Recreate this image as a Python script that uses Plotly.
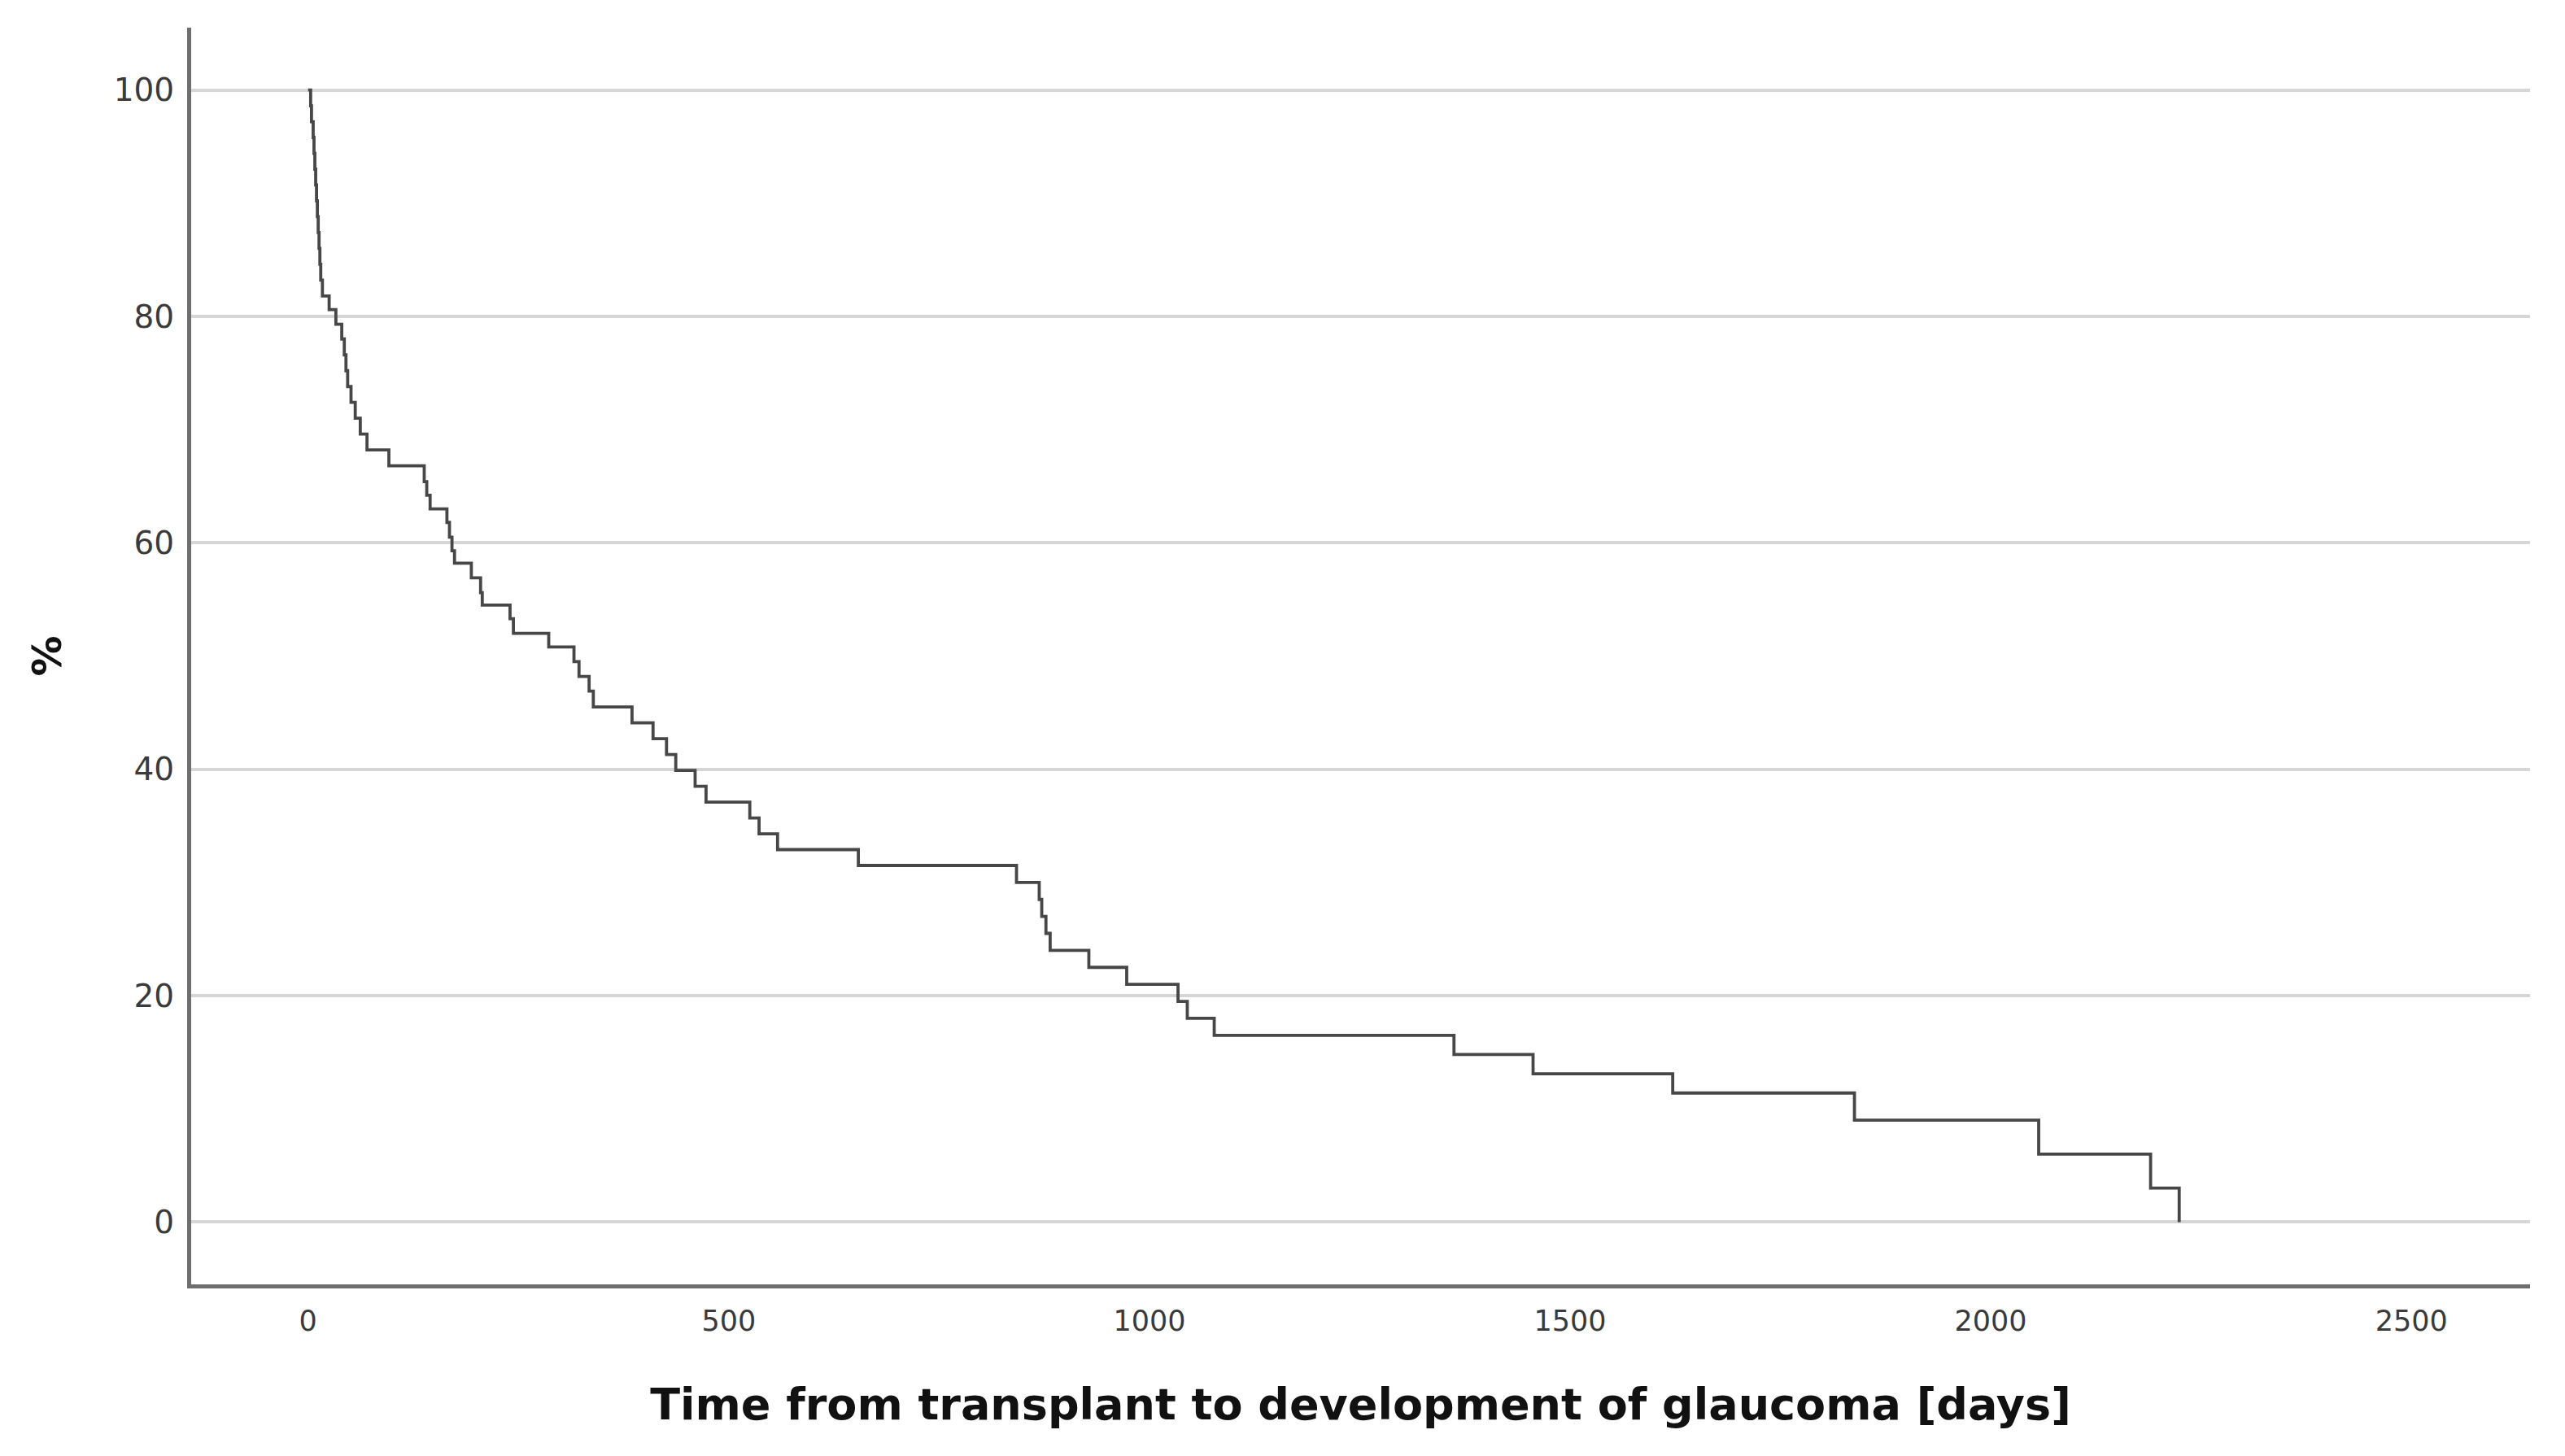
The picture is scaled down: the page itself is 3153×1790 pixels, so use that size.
import plotly.graph_objects as go

# Kaplan-Meier style step data (time in days, % remaining after event)
times = [0, 3, 4, 6, 7, 8, 9, 10, 11, 12, 13, 14, 15, 17, 25, 33, 40, 43, 45, 47, 51, 56, 62, 70,
         96, 138, 141, 145, 165, 168, 171, 174, 194, 205, 207, 240, 244, 286, 316, 322, 334, 339,
         385, 410, 426, 437, 460, 473, 525, 536, 558, 654, 842, 869, 872, 877, 882, 928, 973,
         1034, 1045, 1077, 1362, 1456, 1622, 1838, 2057, 2190, 2224]
percent = [100, 98.6, 97.2, 95.8, 94.4, 93.0, 91.6, 90.2, 88.8, 87.4, 86.0, 84.6, 83.2, 81.8, 80.6,
           79.3, 78.0, 76.6, 75.2, 73.8, 72.4, 71.0, 69.6, 68.2,
           66.8, 65.4, 64.2, 63.0, 61.8, 60.5, 59.3, 58.2, 56.9, 55.6, 54.5, 53.3, 52.0, 50.8, 49.5,
           48.2, 46.9, 45.5,
           44.1, 42.7, 41.3, 39.9, 38.5, 37.1, 35.7, 34.3, 32.9, 31.5, 30.0, 28.5, 27.0, 25.5, 24.0,
           22.5, 21.0,
           19.5, 18.0, 16.5, 14.8, 13.1, 11.4, 9.0, 6.0, 3.0, 0.0]

x_ticks = [0, 500, 1000, 1500, 2000, 2500]
y_ticks = [0, 20, 40, 60, 80, 100]

fig = go.Figure()
fig.add_trace(go.Scatter(
    x=times, y=percent, mode="lines", line_shape="hv",
    line=dict(color="#474747", width=3.8), showlegend=False, hoverinfo="skip"))

fig.update_layout(
    width=3153, height=1790,
    margin=dict(l=227, r=51, t=26, b=219, autoexpand=False),
    paper_bgcolor="white", plot_bgcolor="white",
    font=dict(family="DejaVu Sans", color="#333333"),
)
fig.update_xaxes(
    range=[-139, 2641], tickvals=x_ticks, ticktext=[str(v) for v in x_ticks],
    showgrid=False, zeroline=False, showline=True, linecolor="#6e6e6e", linewidth=5,
    ticks="", tickfont=dict(size=35, color="#3a3a3a"), ticklabelstandoff=10,
    title=dict(text="Time from transplant to development of glaucoma [days]",
               font=dict(size=54, color="#111111", weight="bold"), standoff=66),
    automargin=False,
)
fig.update_yaxes(
    range=[-5.5, 105.5], tickvals=y_ticks, ticktext=[str(v) for v in y_ticks],
    showgrid=True, gridcolor="#d6d6d6", gridwidth=4, zeroline=False,
    showline=True, linecolor="#6e6e6e", linewidth=5,
    ticks="", tickfont=dict(size=39, color="#3a3a3a"), ticklabelstandoff=8,
    title=dict(text="%", font=dict(size=50, color="#111111", weight="bold"), standoff=50),
    automargin=False,
)

fig.write_html("out.html")
